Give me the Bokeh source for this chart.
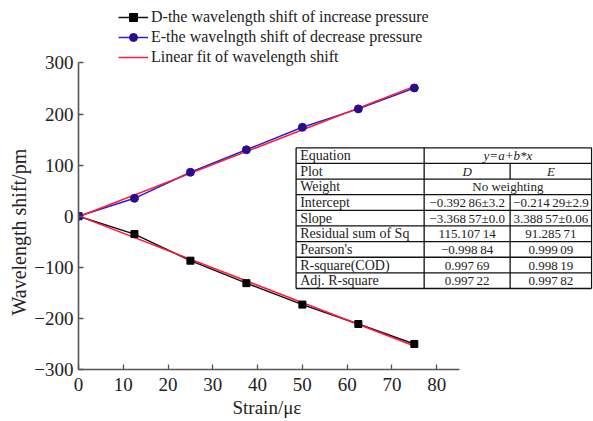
import numpy as np
from bokeh.plotting import figure
from bokeh.models import (Range1d, LinearAxis, FixedTicker, CustomJSTickFormatter,
                          Legend, LegendItem, Title)
from bokeh.embed import file_html
from bokeh.resources import INLINE
from bokeh.core.properties import value

# ---------------- data ----------------
strain = [0, 12.5, 25, 37.5, 50, 62.5, 75]
shift_D = [0, -35, -87, -131, -173, -211, -250]
shift_E = [0, 35, 86, 130, 174, 210, 251]

x_ticks = [0, 10, 20, 30, 40, 50, 60, 70, 80]
y_ticks = [-300, -200, -100, 0, 100, 200, 300]

x_label = "Strain/\u03bc\u03b5"
y_label = "Wavelength shift/pm"
legend_labels = ["D-the wavelength shift of increase pressure",
                 "E-the wavelngth shift of decrease pressure",
                 "Linear fit of wavelength shift"]

table_labels = ["Equation", "Plot", "Weight", "Intercept", "Slope",
                "Residual sum of Sq", "Pearson's", "R-square(COD)", "Adj. R-square"]
equation_text = "y=a+b*x"
plot_names = ["D", "E"]
weight_text = "No weighting"
table_D = ["\u22120.392\u200986\u00b13.2", "\u22123.368\u200957\u00b10.0", "115.107\u200914",
           "\u22120.998\u200984", "0.997\u200969", "0.997\u200922"]
table_E = ["\u22120.214\u200929\u00b12.9", "3.388\u200957\u00b10.06", "91.285\u200971",
           "0.999\u200909", "0.998\u200919", "0.997\u200982"]

FONT = "Liberation Serif"

p = figure(width=593, height=421, x_range=Range1d(0, 114.8), y_range=Range1d(-300, 406.5),
           output_backend="svg", toolbar_location=None, title=None,
           x_axis_location=None, y_axis_location=None,
           min_border_left=78, min_border_right=1, min_border_top=8, min_border_bottom=52)
p.grid.visible = False
p.outline_line_color = None

fmt = CustomJSTickFormatter(code="return tick < 0 ? '\\u2212' + Math.abs(tick) : String(tick);")

xaxis = LinearAxis(bounds=(0, 85), ticker=FixedTicker(ticks=x_ticks))
yaxis = LinearAxis(bounds=(-300, 300), ticker=FixedTicker(ticks=y_ticks), formatter=fmt)
for ax in (xaxis, yaxis):
    ax.axis_line_color = "#555555"
    ax.axis_line_width = 1.6
    ax.major_tick_line_color = "#555555"
    ax.major_tick_line_width = 1.3
    ax.major_tick_in = 5
    ax.major_tick_out = 0
    ax.minor_tick_line_color = None
    ax.major_label_text_font = FONT
    ax.major_label_text_font_size = "19px"
    ax.major_label_text_color = "#222222"
xaxis.major_label_standoff = 8
yaxis.major_label_standoff = 5
p.add_layout(xaxis, "below")
p.add_layout(yaxis, "left")

# axis titles (placed along the drawn axis extent, not the whole frame)
p.add_layout(Title(text=x_label, align="left", offset=154, standoff=2,
                   text_font=FONT, text_font_size="19px", text_font_style="normal",
                   text_color="#222222"), "below")
p.add_layout(Title(text=y_label, align="left", offset=54, standoff=4,
                   text_font=FONT, text_font_size="20px", text_font_style="normal",
                   text_color="#222222"), "left")

# ---------------- series ----------------
lD = p.line(strain, shift_D, line_color="#111111", line_width=1.5)
lE = p.line(strain, shift_E, line_color="#2a20d0", line_width=1.5)

xfit = [min(strain), max(strain)]
cD = np.polyfit(strain, shift_D, 1)
cE = np.polyfit(strain, shift_E, 1)
fD = p.line(xfit, list(np.polyval(cD, xfit)), line_color="#ff1a3a", line_width=1.5)
fE = p.line(xfit, list(np.polyval(cE, xfit)), line_color="#ff1a3a", line_width=1.5)

sD = p.scatter(strain, shift_D, marker="square", size=7, fill_color="#000000", line_color="#000000")
sE = p.scatter(strain, shift_E, marker="circle", size=8, fill_color="#2b0d8c", line_color="#2b0d8c")

legend = Legend(items=[LegendItem(label=legend_labels[0], renderers=[lD, sD]),
                       LegendItem(label=legend_labels[1], renderers=[lE, sE]),
                       LegendItem(label=legend_labels[2], renderers=[fD])],
                location=(40, 302), padding=0, spacing=0, margin=0,
                glyph_width=30, glyph_height=20, label_height=20, label_standoff=3,
                border_line_color=None, background_fill_alpha=0,
                label_text_font=FONT, label_text_font_size="16px", label_text_color="#222222")
p.add_layout(legend)

# ---------------- fit table ----------------
tl, c1, c2, tr = 48.6, 77.2, 96.4, 114.6
ttop, tbot = 133.9, -141.5
n = len(table_labels)
rh = (ttop - tbot) / n
row_y = [ttop - (i + 0.5) * rh for i in range(n)]

hy = [ttop - i * rh for i in range(n + 1)]
p.segment(x0=[tl] * len(hy), y0=hy, x1=[tr] * len(hy), y1=hy, line_color="#111111", line_width=1.3)
p.segment(x0=[tl, c1, tr], y0=[ttop] * 3, x1=[tl, c1, tr], y1=[tbot] * 3,
          line_color="#111111", line_width=1.3)
p.segment(x0=[c2, c2], y0=[hy[1], hy[3]], x1=[c2, c2], y1=[hy[2], hy[n]],
          line_color="#111111", line_width=1.3)

lstyle = dict(text_font=value(FONT), text_font_size="14px", text_color="#222222",
              text_baseline="middle")
vstyle = dict(text_font=value(FONT), text_font_size="13px", text_color="#222222",
              text_baseline="middle", text_align="center")
p.text(x=[tl + 0.9] * n, y=row_y, text=table_labels, text_align="left", **lstyle)
p.text(x=[(c1 + tr) / 2], y=[row_y[0]], text=[equation_text], text_font_style="italic", **vstyle)
p.text(x=[(c1 + c2) / 2, (c2 + tr) / 2], y=[row_y[1], row_y[1]], text=plot_names,
       text_font_style="italic", **vstyle)
p.text(x=[(c1 + tr) / 2], y=[row_y[2]], text=[weight_text], **vstyle)
p.text(x=[(c1 + c2) / 2] * len(table_D), y=row_y[3:], text=table_D, **vstyle)
p.text(x=[(c2 + tr) / 2] * len(table_E), y=row_y[3:], text=table_E, **vstyle)

open("out.html", "w").write(file_html(p, INLINE))
